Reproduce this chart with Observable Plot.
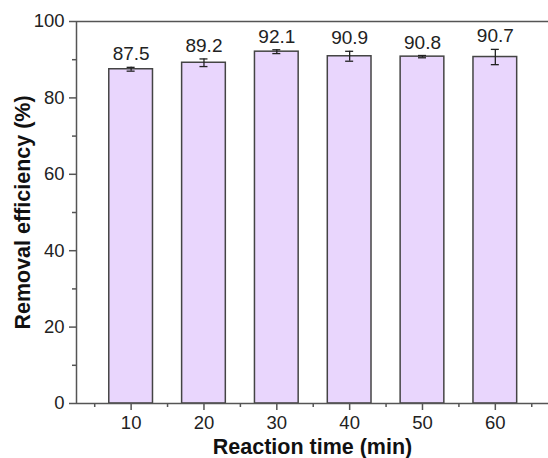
<!DOCTYPE html>
<html>
<head>
<meta charset="utf-8">
<script src="https://cdn.jsdelivr.net/npm/d3@7"></script>
<script src="https://cdn.jsdelivr.net/npm/@observablehq/plot@0.6"></script>
<style>
  html, body { margin: 0; padding: 0; background: #fff; }
  #chart svg { display: block; }
</style>
</head>
<body>
<div id="chart"></div>
<script>
const times = [10, 20, 30, 40, 50, 60];
const efficiency = [87.5, 89.2, 92.1, 90.9, 90.8, 90.7];
const errors = [0.5, 1.0, 0.5, 1.3, 0.3, 2.0];
const labels = ["87.5", "89.2", "92.1", "90.9", "90.8", "90.7"];
const yMajorTicks = [0, 20, 40, 60, 80, 100];
const yMinorTicks = [10, 30, 50, 70, 90];
const xMajorTicks = [10, 20, 30, 40, 50, 60];
const xMinorTicks = [5, 15, 25, 35, 45, 55, 65];

const data = times.map((t, i) => ({t, v: efficiency[i], e: errors[i], label: labels[i]}));

const axisColor = "#555";
const font = "Liberation Sans, Arial, sans-serif";

const chart = Plot.plot({
  width: 548,
  height: 458,
  marginLeft: 76,
  marginRight: 0,
  marginTop: 21,
  marginBottom: 55,
  style: {fontFamily: font, fontSize: "18px", color: "#222", background: "#fff"},
  x: {type: "linear", domain: [2.5, 67.3], axis: null},
  y: {domain: [0, 100], axis: null},
  marks: [
    Plot.rectY(data, {x1: d => d.t - 3, x2: d => d.t + 3, y: "v", fill: "#e9d6fd", stroke: "#444", strokeWidth: 1.5}),
    Plot.ruleX(data, {x: "t", y1: d => d.v - d.e, y2: d => d.v + d.e, stroke: "#222", strokeWidth: 1.3}),
    Plot.ruleY(data, {y: d => d.v + d.e, x1: d => d.t - 0.55, x2: d => d.t + 0.55, stroke: "#222", strokeWidth: 1.3}),
    Plot.ruleY(data, {y: d => d.v - d.e, x1: d => d.t - 0.55, x2: d => d.t + 0.55, stroke: "#222", strokeWidth: 1.3}),
    Plot.text(data, {x: "t", y: d => d.v + d.e, text: "label", dy: -13, fontSize: 19, fill: "#222"}),
    // frame lines
    Plot.ruleY([100], {stroke: axisColor, strokeWidth: 1.5}),
    Plot.ruleY([0], {stroke: axisColor, strokeWidth: 1.5}),
    Plot.ruleX([2.5], {stroke: axisColor, strokeWidth: 1.5}),
    // axes
    Plot.axisY(yMajorTicks, {tickSize: 7, tickPadding: 5, stroke: axisColor, strokeWidth: 1.5, fontSize: 18.5, fill: "#222", label: null}),
    Plot.axisY(yMinorTicks, {tickSize: 4, tickFormat: () => "", stroke: axisColor, strokeWidth: 1.5, label: null}),
    Plot.axisX(xMajorTicks, {tickSize: 7, tickPadding: 5, stroke: axisColor, strokeWidth: 1.5, fontSize: 18.5, fill: "#222", label: null}),
    Plot.axisX(xMinorTicks, {tickSize: 4, tickFormat: () => "", stroke: axisColor, strokeWidth: 1.5, label: null}),
    // titles
    Plot.text(["Reaction time (min)"], {frameAnchor: "bottom", dy: 44, textAnchor: "middle", lineAnchor: "middle", text: d => d, fontWeight: "bold", fontSize: 21.5, fill: "#111"}),
    Plot.text(["Removal efficiency (%)"], {frameAnchor: "left", dx: -53, textAnchor: "middle", lineAnchor: "middle", rotate: -90, text: d => d, fontWeight: "bold", fontSize: 21.5, fill: "#111"})
  ]
});
document.getElementById("chart").appendChild(chart);
</script>
</body>
</html>
